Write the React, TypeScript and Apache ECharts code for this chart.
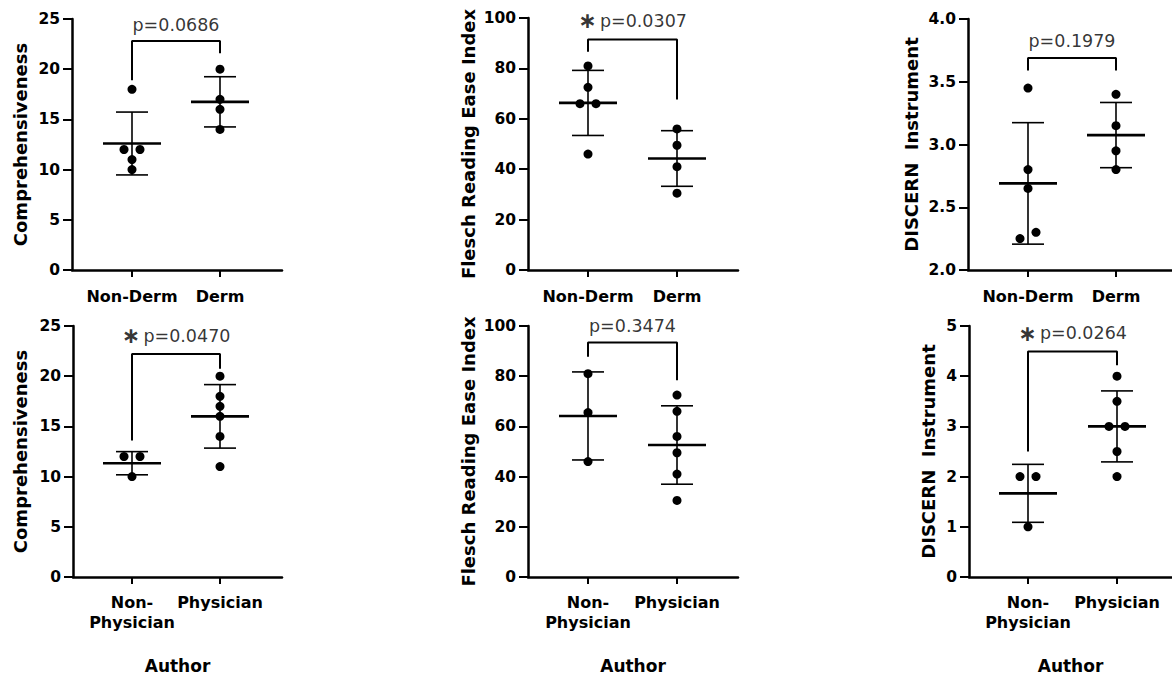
import * as echarts from "echarts";
import { useEffect, useRef } from "react";

// ---------- data ----------
const topCategories = ["Non-Derm", "Derm"];
const bottomCategories = ["Non-\nPhysician", "Physician"];
const xTitle = "Author";

const compNonDerm = [18, 12, 12, 11, 10];
const compDerm = [20, 17, 16, 14];
const fleschNonDerm = [81, 72.5, 66, 66, 46];
const fleschDerm = [56, 49.5, 41, 30.5];
const discernNonDerm = [3.45, 2.8, 2.65, 2.3, 2.25];
const discernDerm = [3.4, 3.15, 2.95, 2.8];

const compNonPhys = [12, 12, 10];
const compPhys = [20, 18, 17, 16, 14, 11];
const fleschNonPhys = [81, 65.5, 46];
const fleschPhys = [72.5, 66, 56, 49.5, 41, 30.5];
const discernNonPhys = [2, 2, 1];
const discernPhys = [4, 3.5, 3, 3, 2.5, 2];

// brackets: [left leg end, top, right leg end] in data units
const compDermBracket = [18.9, 22.8, 21.6];
const fleschDermBracket = [86.6, 91.5, 67.7];
const discernDermBracket = [3.59, 3.69, 3.59];
const compPhysBracket = [13.6, 22.2, 20.75];
const fleschPhysBracket = [87.7, 93.4, 78.4];
const discernPhysBracket = [2.5, 4.49, 4.22];

const pValues = ["p=0.0686", "p=0.0307", "p=0.1979", "p=0.0470", "p=0.3474", "p=0.0264"];
const significant = [false, true, false, true, false, true];

const yNames = ["Comprehensiveness", "Flesch Reading Ease Index", "DISCERN  Instrument"];
const yMins = [0, 0, 2, 0, 0, 0];
const yMaxs = [25, 100, 4, 25, 100, 5];
const yIntervals = [5, 20, 0.5, 5, 20, 1];

// ---------- layout ----------
const FONT = "DejaVu Sans";
const layout = [
  { left: 72, top: 19, right: 282, bottom: 270, c1: 132, c2: 220, nameGap: 43, xMargin: 16 },
  { left: 528, top: 18, right: 738, bottom: 270, c1: 588, c2: 677, nameGap: 51, xMargin: 16 },
  { left: 968, top: 19, right: 1172, bottom: 270, c1: 1028, c2: 1116, nameGap: 48, xMargin: 16 },
  { left: 73, top: 326, right: 282, bottom: 577, c1: 132, c2: 220, nameGap: 44, xMargin: 15 },
  { left: 528, top: 326, right: 738, bottom: 577, c1: 588, c2: 677, nameGap: 51, xMargin: 15 },
  { left: 969, top: 326, right: 1172, bottom: 577, c1: 1028, c2: 1117, nameGap: 32, xMargin: 15 },
];

const groups = [
  [compNonDerm, compDerm],
  [fleschNonDerm, fleschDerm],
  [discernNonDerm, discernDerm],
  [compNonPhys, compPhys],
  [fleschNonPhys, fleschPhys],
  [discernNonPhys, discernPhys],
];
const brackets = [
  compDermBracket,
  fleschDermBracket,
  discernDermBracket,
  compPhysBracket,
  fleschPhysBracket,
  discernPhysBracket,
];

function mean(a: number[]) {
  return a.reduce((s, v) => s + v, 0) / a.length;
}
function sd(a: number[]) {
  const m = mean(a);
  return Math.sqrt(a.reduce((s, v) => s + (v - m) * (v - m), 0) / (a.length - 1));
}
// spread overlapping dots sideways (like a column scatter plot)
function jitterOffsets(vals: number[], range: number, unitPx: number) {
  const idx = vals.map((v, i) => i).sort((a, b) => vals[a] - vals[b]);
  const off = vals.map(() => 0);
  let i = 0;
  while (i < idx.length) {
    let j = i;
    while (j + 1 < idx.length && vals[idx[j + 1]] - vals[idx[j]] < 0.035 * range) j++;
    const m = j - i + 1;
    for (let k = 0; k < m; k++) off[idx[i + k]] = ((k - (m - 1) / 2) * 16) / unitPx;
    i = j + 1;
  }
  return off;
}

function buildOption() {
  const grid: any[] = [];
  const xAxis: any[] = [];
  const yAxis: any[] = [];
  const series: any[] = [];

  layout.forEach((L, p) => {
    const unit = L.c2 - L.c1;
    const xmin = 1 - (L.c1 - L.left) / unit;
    const xmax = 2 + (L.right - L.c2) / unit;
    const cats = p < 3 ? topCategories : bottomCategories;
    grid.push({ left: L.left, top: L.top, width: L.right - L.left, height: L.bottom - L.top });
    xAxis.push({
      type: "value",
      gridIndex: p,
      min: xmin,
      max: xmax,
      name: p >= 3 ? xTitle : "",
      nameLocation: "middle",
      nameGap: 80,
      nameTextStyle: { fontFamily: FONT, fontWeight: "bold", fontSize: 17, color: "#000" },
      splitLine: { show: false },
      axisLine: { show: true, lineStyle: { color: "#000", width: 2.5 } },
      axisTick: { show: true, customValues: [1, 2], length: 7, lineStyle: { color: "#000", width: 2 } },
      axisLabel: {
        show: true,
        customValues: [1, 2],
        formatter: (v: number) => cats[Math.round(v) - 1] ?? "",
        fontFamily: FONT,
        fontWeight: "bold",
        fontSize: 16,
        color: "#000",
        margin: L.xMargin,
        lineHeight: 20,
      },
    });
    yAxis.push({
      type: "value",
      gridIndex: p,
      min: yMins[p],
      max: yMaxs[p],
      interval: yIntervals[p],
      name: yNames[p % 3],
      nameLocation: "middle",
      nameGap: L.nameGap,
      nameTextStyle: { fontFamily: FONT, fontWeight: "bold", fontSize: 18, color: "#000" },
      splitLine: { show: false },
      axisLine: { show: true, lineStyle: { color: "#000", width: 2.5 } },
      axisTick: { show: true, length: 9, lineStyle: { color: "#000", width: 2 } },
      axisLabel: {
        fontFamily: FONT,
        fontWeight: "bold",
        fontSize: 15.5,
        color: "#000",
        margin: 12,
        formatter: (v: number) => (p === 2 ? v.toFixed(1) : String(v)),
      },
    });

    const [ga, gb] = groups[p];
    const range = yMaxs[p] - yMins[p];
    const ja = jitterOffsets(ga, range, unit);
    const jb = jitterOffsets(gb, range, unit);
    const pts = [
      ...ga.map((v, i) => [1 + ja[i], v]),
      ...gb.map((v, i) => [2 + jb[i], v]),
    ];
    series.push({
      type: "scatter",
      xAxisIndex: p,
      yAxisIndex: p,
      symbol: "circle",
      symbolSize: 9,
      itemStyle: { color: "#000", opacity: 1 },
      data: pts,
      z: 3,
    });
    series.push({
      type: "custom",
      xAxisIndex: p,
      yAxisIndex: p,
      data: [
        [1, mean(ga), sd(ga)],
        [2, mean(gb), sd(gb)],
      ],
      encode: { x: 0, y: 1 },
      z: 4,
      renderItem: (params: any, api: any) => {
        const x = api.value(0);
        const m = api.value(1);
        const s = api.value(2);
        const c = api.coord([x, m]);
        const t = api.coord([x, m + s]);
        const b = api.coord([x, m - s]);
        const thin = { stroke: "#000", lineWidth: 1.6 };
        return {
          type: "group",
          children: [
            { type: "line", shape: { x1: c[0], y1: t[1], x2: c[0], y2: b[1] }, style: thin },
            { type: "line", shape: { x1: c[0] - 16, y1: t[1], x2: c[0] + 16, y2: t[1] }, style: thin },
            { type: "line", shape: { x1: c[0] - 16, y1: b[1], x2: c[0] + 16, y2: b[1] }, style: thin },
            { type: "line", shape: { x1: c[0] - 29, y1: c[1], x2: c[0] + 29, y2: c[1] }, style: { stroke: "#000", lineWidth: 2.6 } },
          ],
        };
      },
    });
    const br = brackets[p];
    series.push({
      type: "line",
      xAxisIndex: p,
      yAxisIndex: p,
      symbol: "none",
      lineStyle: { color: "#000", width: 2 },
      data: [
        [1, br[0]],
        [1, br[1]],
        [2, br[1]],
        [2, br[2]],
      ],
      silent: true,
    });
    series.push({
      type: "scatter",
      xAxisIndex: p,
      yAxisIndex: p,
      symbolSize: 1,
      itemStyle: { color: "rgba(0,0,0,0)" },
      silent: true,
      data: [[1.5, br[1]]],
      label: {
        show: true,
        position: "top",
        distance: 7,
        color: "#000",
        formatter: significant[p] ? `{s|∗} {p|${pValues[p]}}` : `{p|${pValues[p]}}`,
        rich: {
          s: { fontFamily: FONT, fontWeight: "bold", fontSize: 22, color: "#000" },
          p: { fontFamily: FONT, fontSize: 17.5, color: "#000" },
        },
      },
    });
  });

  return {
    animation: false,
    backgroundColor: "#fff",
    grid,
    xAxis,
    yAxis,
    series,
  };
}

export default function App() {
  const ref = useRef<HTMLDivElement>(null);
  useEffect(() => {
    if (!ref.current) return;
    const chart = echarts.init(ref.current, undefined, { renderer: "svg" });
    chart.setOption(buildOption() as any);
    return () => chart.dispose();
  }, []);
  return (
    <div
      ref={ref}
      style={{ position: "fixed", left: 0, top: 0, width: 1172, height: 679, background: "#fff" }}
    />
  );
}
